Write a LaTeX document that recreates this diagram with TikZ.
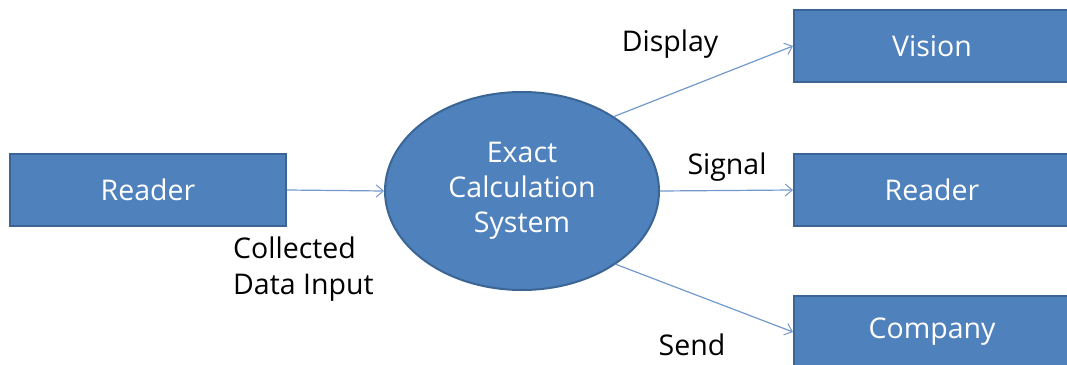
\documentclass[tikz,border=0pt]{standalone}
\usepackage{fontspec}
\setmainfont{Open Sans}
\usepackage{xcolor}
\usetikzlibrary{arrows.meta}
\usetikzlibrary{shapes.geometric, calc}
\definecolor{boxblue}{HTML}{4F81BD}
\definecolor{boxedge}{HTML}{3A6595}
\definecolor{flowblue}{HTML}{7399CC}
\tikzset{
  blok/.style={rectangle, fill=boxblue, draw=boxedge, line width=2pt,
    minimum width=276pt, minimum height=72pt, inner sep=0pt,
    text=white, font=\fontsize{28.5}{34}\selectfont},
  flux/.style={draw=flowblue, line width=1.2pt,
    -{Straight Barb[length=7pt,width=12pt,line width=1pt]}},
  etiq/.style={font=\fontsize{28.5}{36}\selectfont, inner sep=0pt}
}
\begin{document}
\begin{tikzpicture}[x=1pt, y=-1pt]
        \useasboundingbox (0,0) rectangle (1067,364);
        % Entrée et système central
        \node[blok] (reader) at (148,190) {Reader};
        \node[ellipse, fill=boxblue, draw=boxedge, line width=2pt,
              minimum width=274pt, minimum height=198pt, inner sep=0pt,
              text=white, align=center, font=\fontsize{28.5}{35}\selectfont]
              (ecs) at (522,191) {Exact\\Calculation\\System};

        % Sorties
        \node[blok] (vision) at (932,46) {Vision};
        \node[blok] (readerout) at (932,190) {Reader};
        \node[blok] (company) at (932,332) {Company};

        % Flux
        \draw[flux] (reader.east) -- (ecs.west);
        \draw[flux] (ecs.39) -- (vision.west);
        \draw[flux] (ecs.east) -- (readerout.west);
        \draw[flux] (ecs.-38) -- (company.west);

        % Étiquettes
        \node[etiq, align=left, anchor=north west] (lblinput) at (233,237) {Collected\\Data Input};
        \node[etiq] (lbldisplay) at (670,44) {Display};
        \node[etiq] (lblsignal) at (727,167) {Signal};
        \node[etiq] (lblsend) at (692,345) {Send};
    \end{tikzpicture}
\end{document}
